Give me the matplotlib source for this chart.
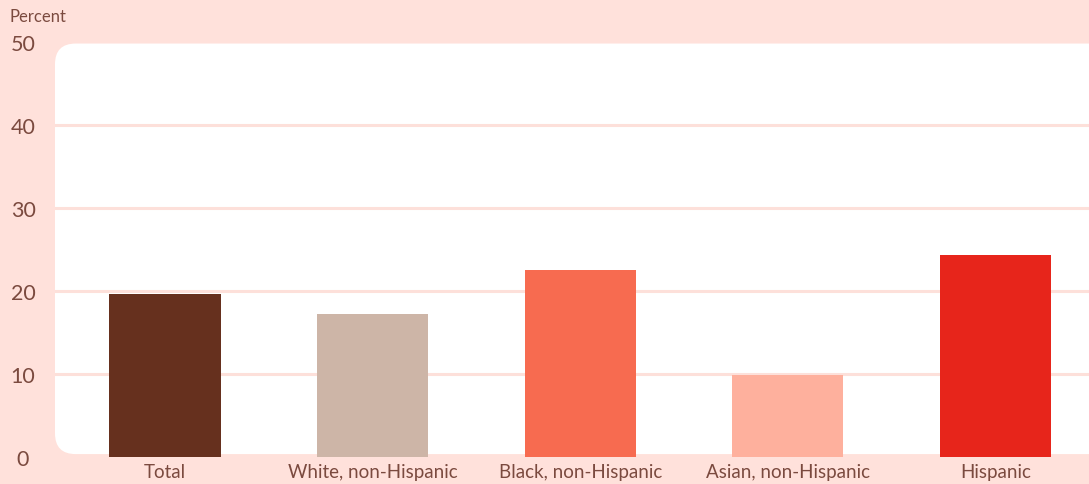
import matplotlib.pyplot as plt
from matplotlib.patches import FancyBboxPatch
import numpy as np

categories = ["Total", "White, non-Hispanic", "Black, non-Hispanic",
              "Asian, non-Hispanic", "Hispanic"]
values = [19.6, 17.2, 22.6, 9.9, 24.3]
colors = ["#66301E", "#CDB5A7", "#F76B50", "#FEB09D", "#E7251B"]
yticks = [0, 10, 20, 30, 40, 50]

bg = "#FFE1DB"
txt = "#7B4A3F"

plt.rcParams['font.family'] = ['Lato', 'DejaVu Sans']

fig = plt.figure(figsize=(10.89, 4.85), dpi=100, facecolor=bg)
ax = fig.add_axes([0.0505, 0.0557, 0.9495, 0.855])
ax.set_facecolor(bg)

# white rounded panel behind the bars
panel = FancyBboxPatch((0.0, 0.007), 1.1, 0.99, boxstyle="round,pad=0,rounding_size=0.02",
                       transform=ax.transAxes, facecolor="white", edgecolor="none",
                       zorder=0, mutation_aspect=2.5, clip_on=False)
ax.add_patch(panel)

x = np.arange(len(categories))
for yv in yticks[1:-1]:
    ax.axhline(yv, color="#FDE0DA", lw=2.2, zorder=1)
ax.bar(x, values, width=0.535, color=colors, zorder=2)

ax.set_xlim(-0.53, len(categories) - 0.55)
ax.set_ylim(0, 50)
ax.set_yticks(yticks)
ax.set_xticks(x)
ax.set_xticklabels(categories)
for s in ax.spines.values():
    s.set_visible(False)
ax.tick_params(axis="both", length=0, labelcolor=txt)
ax.tick_params(axis="y", labelsize=15.5, pad=23)
ax.tick_params(axis="x", labelsize=13.5, pad=4)
for lab in ax.get_yticklabels():
    lab.set_horizontalalignment("center")

fig.text(0.009, 0.965, "Percent", color=txt, fontsize=12, va="center")

fig.savefig("out.png", dpi=100, facecolor=bg)
